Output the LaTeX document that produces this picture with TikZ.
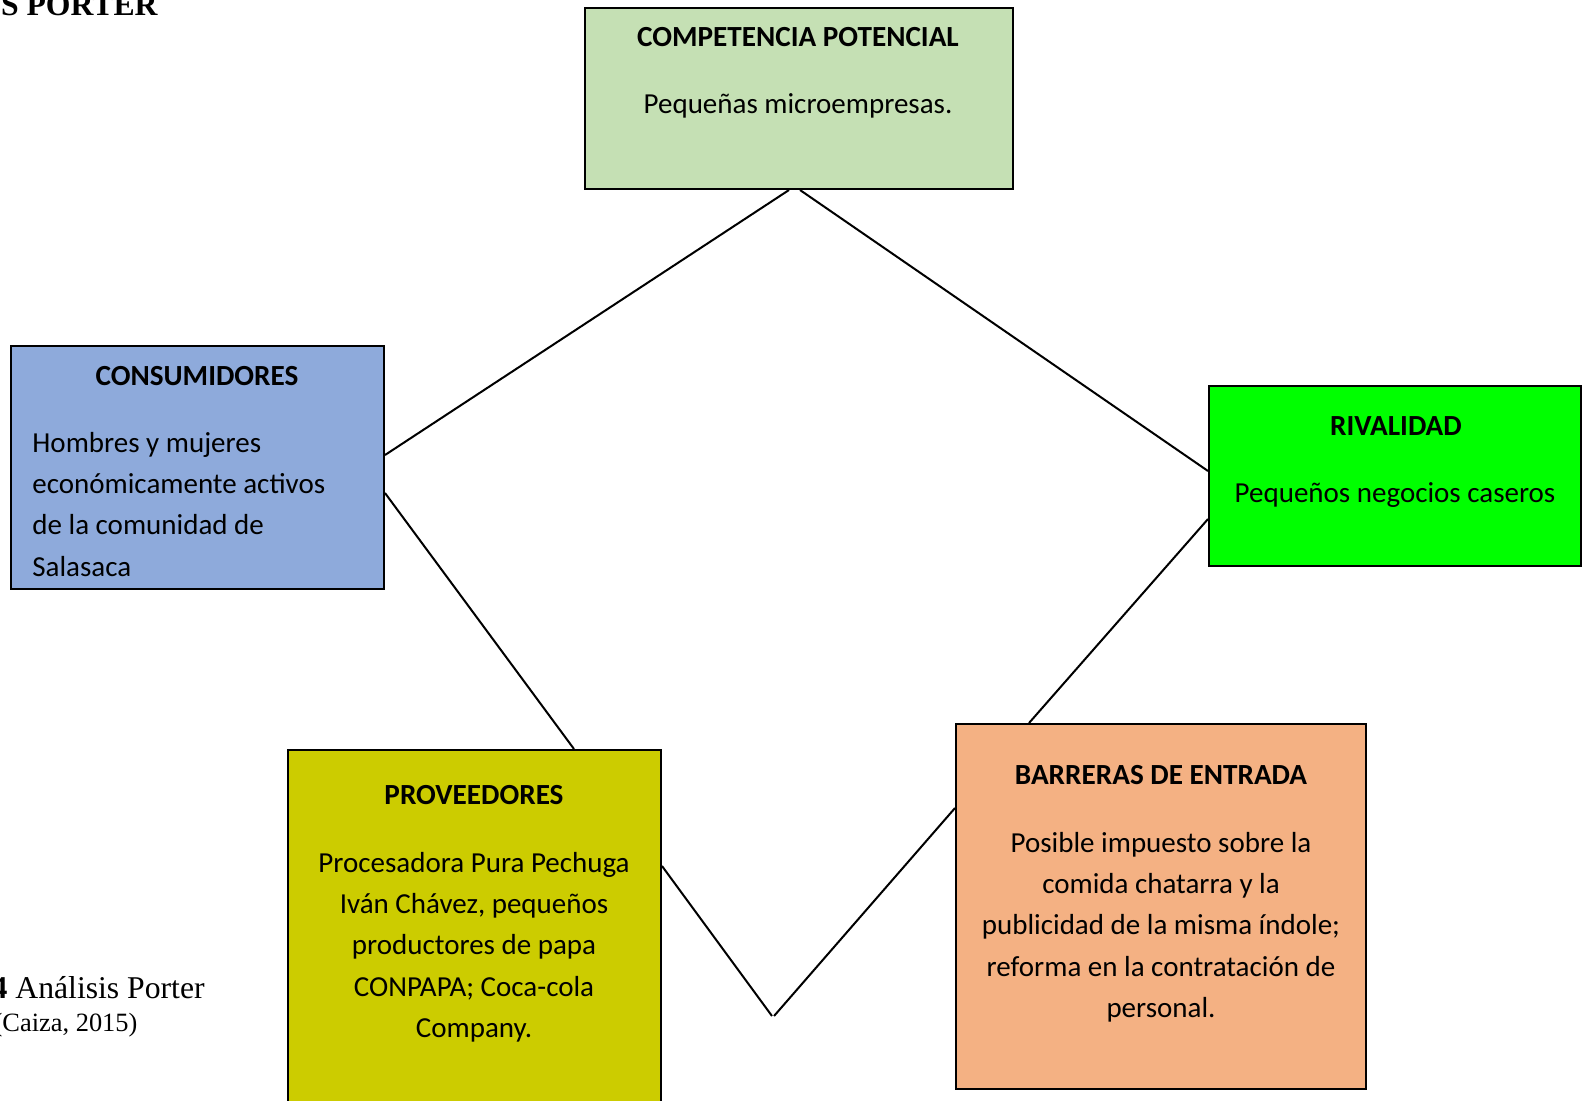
\documentclass[tikz,border=0pt]{standalone}
\usepackage{fontspec}
\setmainfont{Carlito}
\newfontfamily\timesf{Liberation Serif}
\definecolor{cComp}{HTML}{C5E0B4}
\definecolor{cCons}{HTML}{8EAADB}
\definecolor{cRiv}{HTML}{00FF00}
\definecolor{cProv}{HTML}{CCCC00}
\definecolor{cBarr}{HTML}{F4B183}
\begin{document}
\begin{tikzpicture}[x=0.5pt,y=-0.5pt,
  box/.style={draw=black, line width=1pt, inner sep=0pt, anchor=north west},
  ttl/.style={font=\fontsize{14.6pt}{20.6pt}\selectfont\bfseries, inner sep=0pt, anchor=base},
  body/.style={font=\fontsize{14.5pt}{20.6pt}\selectfont, inner sep=0pt},
  link/.style={draw=black, line width=1pt},
  capt/.style={font=\timesf, inner sep=0pt, anchor=base west}
]
\useasboundingbox (0,0) rectangle (1582,1100);
\clip (0,0) rectangle (1582,1100);
\fill[white] (0,0) rectangle (1582,1100);

% boxes
\node[box, fill=cComp, minimum width=214pt, minimum height=90.5pt] (comp) at (584,7) {};
\node[box, fill=cCons, minimum width=186.5pt, minimum height=121.5pt] (cons) at (10,345) {};
\node[box, fill=cRiv, minimum width=186pt, minimum height=90pt] (riv) at (1208,385) {};
\node[box, fill=cProv, minimum width=186.5pt, minimum height=190pt] (prov) at (287,749) {};
\node[box, fill=cBarr, minimum width=205pt, minimum height=182.5pt] (barr) at (955,723) {};

% texts
\node[ttl] (compT) at (798,46) {COMPETENCIA POTENCIAL};
\node[body, anchor=base] (compB) at (798,113) {Pequeñas microempresas.};

\node[ttl] (consT) at (197,385) {CONSUMIDORES};
\node[body, anchor=north west, align=left] (consB) at (32,423.2)
  {\strut Hombres y mujeres\\económicamente activos\\de la comunidad de\\Salasaca};

\node[ttl] (rivT) at (1396,435) {RIVALIDAD};
\node[body, anchor=base] (rivB) at (1395,502) {Pequeños negocios caseros};

\node[ttl] (provT) at (474,804) {PROVEEDORES};
\node[body, anchor=north, align=center] (provB) at (474,843.2)
  {\strut Procesadora Pura Pechuga\\Iván Chávez, pequeños\\productores de papa\\CONPAPA; Coca-cola\\Company.};

\node[ttl] (barrT) at (1161,784) {BARRERAS DE ENTRADA};
\node[body, anchor=north, align=center] (barrB) at (1161,823.2)
  {\strut Posible impuesto sobre la\\comida chatarra y la\\publicidad de la misma índole;\\reforma en la contratación de\\personal.};

% free ends
\coordinate (v1) at (772,1016);
\coordinate (v2) at (774,1016);

% connectors
\draw[link] ([xshift=-5pt]comp.south) -- ([yshift=6.25pt]cons.east);
\draw[link] ([xshift=0.5pt]comp.south) -- ([yshift=2.5pt]riv.west);
\draw[link] ([yshift=-12.75pt]cons.east) -- ([xshift=49.75pt]prov.north);
\draw[link] ([yshift=-21.5pt]riv.west) -- ([xshift=-66pt]barr.north);
\draw[link] ([yshift=-58.5pt]prov.north east) -- (v1);
\draw[link] ([yshift=-42.5pt]barr.north west) -- (v2);

% outside texts
\node[capt, anchor=base east, font=\timesf\fontsize{15.85pt}{19pt}\selectfont\bfseries] (head) at (158,15) {S PORTER};
\node[capt, font=\timesf\fontsize{15.85pt}{19pt}\selectfont] (capA) at (-8.8,998) {{\bfseries 4} Análisis Porter};
\node[capt, font=\timesf\fontsize{13.2pt}{16pt}\selectfont] (capB) at (-6.7,1031) {(Caiza, 2015)};
\end{tikzpicture}
\end{document}
